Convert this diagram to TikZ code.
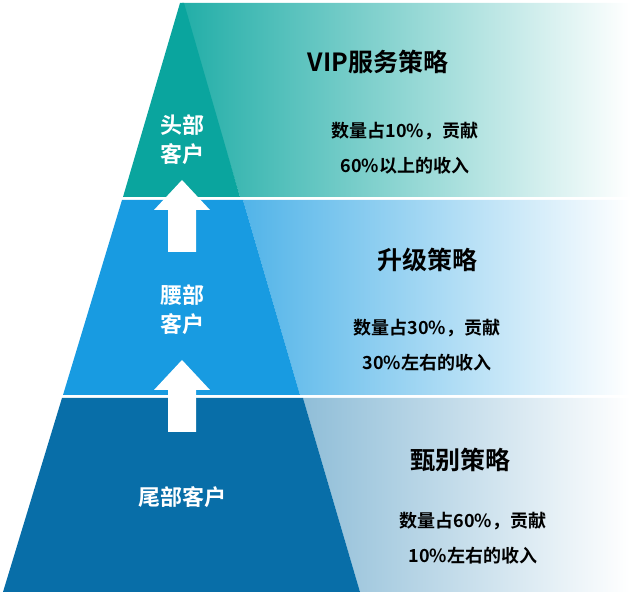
\documentclass[tikz,border=0pt]{standalone}
\usepackage{fontspec}
\newfontfamily\cjk{Noto Sans CJK SC Bold}
\definecolor{cA}{RGB}{10,165,158}
\definecolor{cB}{RGB}{24,155,225}
\definecolor{cC}{RGB}{8,110,168}
\tikzset{lbl/.style={text=white,font=\cjk\fontsize{22}{29}\selectfont,align=center},
 ttl/.style={text=black,font=\cjk\fontsize{25}{30}\selectfont},
 bdy/.style={text=black,font=\cjk\fontsize{18}{35}\selectfont,align=center}}
\begin{document}
\begin{tikzpicture}[x=1pt,y=-1pt]
\useasboundingbox (0,0) rectangle (630,609);
% bands
\shade[left color=cA!90,middle color=cA!12,right color=white] (182,3) -- (630,3) -- (630,197) -- (240,197) -- cycle;
\shade[left color=cB!75,middle color=cB!10,right color=white] (243,200) -- (630,200) -- (630,395) -- (300,395) -- cycle;
\shade[left color=cC!45,middle color=cC!8,right color=white] (303,398) -- (630,398) -- (630,592) -- (360,592) -- cycle;
% tiers
\fill[cA] (180,3) -- (184,3) -- (240,197) -- (123,197) -- cycle;
\fill[cB] (122,200) -- (243,200) -- (300,395) -- (63,395) -- cycle;
\fill[cC] (62,398) -- (303,398) -- (360,592) -- (3,592) -- cycle;
% arrows
\fill[white] (182,180) -- (210,210) -- (196,210) -- (196,252) -- (168,252) -- (168,210) -- (154,210) -- cycle;
\fill[white] (182,360) -- (210,390) -- (196,390) -- (196,432) -- (168,432) -- (168,390) -- (154,390) -- cycle;
% labels
\node[lbl] (l1) at (182,140) {头部\\客户};
\node[lbl] (l2) at (182,310) {腰部\\客户};
\node[lbl] (l3) at (182,497) {尾部客户};
\node[ttl] (t1) at (378,62) {VIP服务策略};
\node[bdy] (b1) at (405,148) {数量占10\%，贡献\\60\%以上的收入};
\node[ttl] (t2) at (427,260) {升级策略};
\node[bdy] (b2) at (427,345) {数量占30\%，贡献\\30\%左右的收入};
\node[ttl] (t3) at (460,460) {甄别策略};
\node[bdy] (b3) at (473,538) {数量占60\%，贡献\\10\%左右的收入};
\end{tikzpicture}
\end{document}
